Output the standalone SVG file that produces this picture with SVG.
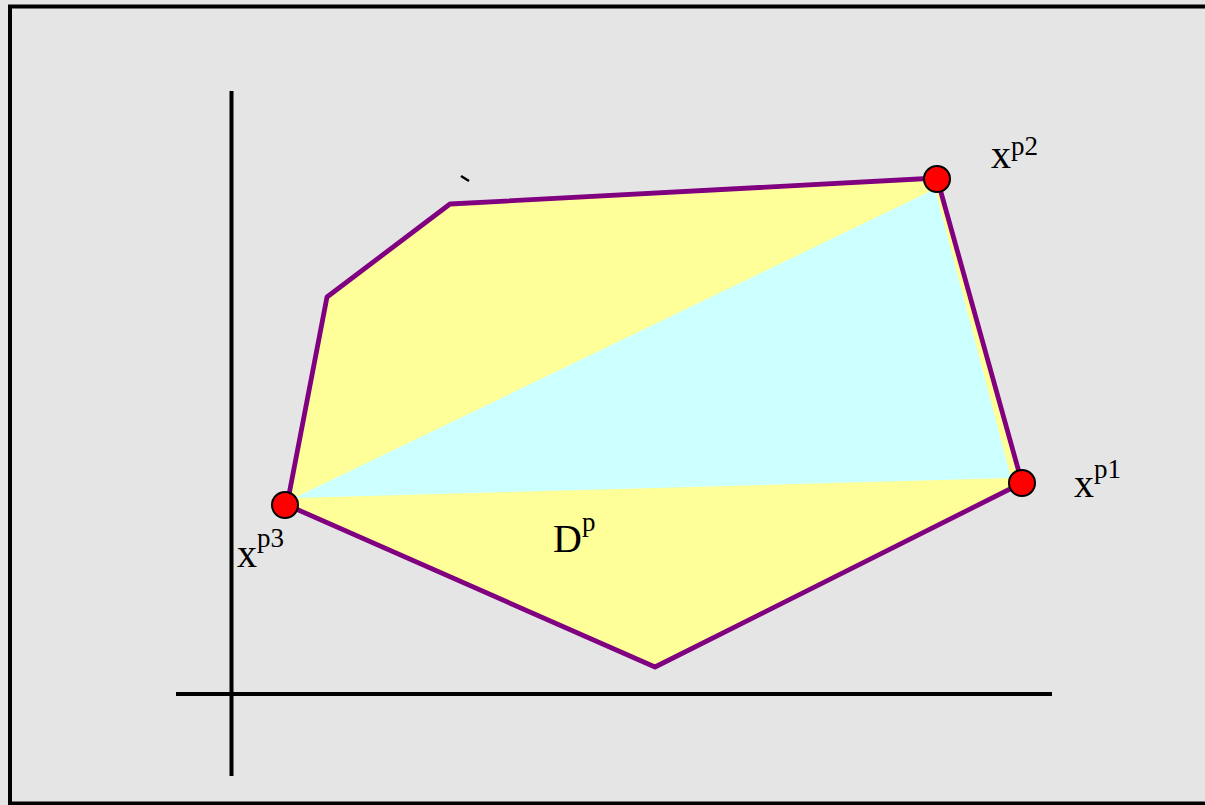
<svg xmlns="http://www.w3.org/2000/svg" width="1205" height="805" viewBox="0 0 1205 805">
<style>
.lbl{font-family:"Liberation Serif","Times New Roman",serif;font-size:40px;fill:#000}
.sup{font-size:27px}
.axis{stroke:#000;stroke-width:4;fill:none}
.pt{fill:#ff0000;stroke:#000;stroke-width:2}
</style>
<rect x="0" y="0" width="1205" height="805" fill="#e5e5e5"/>
<rect x="10" y="6.5" width="1200" height="797" fill="#e5e5e5" stroke="#000" stroke-width="4"/>
<g id="axes">
<line class="axis" x1="231.5" y1="91" x2="231.5" y2="776"/>
<line class="axis" x1="176" y1="694" x2="1052" y2="694"/>
</g>
<g id="region">
<polygon points="287,505 655,667 1022,483 937,178 450,204 327,297" fill="#ffff99" stroke="none"/>
<polygon points="294,498 935,189 1011,478" fill="#ccffff"/>
<polygon points="287,505 655,667 1022,483 937,178 450,204 327,297" fill="none" stroke="#800080" stroke-width="4.8" stroke-linejoin="round"/>
<line x1="461" y1="176" x2="469" y2="181" stroke="#000" stroke-width="2.5"/>
</g>
<g id="p1"><circle class="pt" cx="1022" cy="483" r="13"/></g>
<g id="p2"><circle class="pt" cx="937" cy="179" r="13"/></g>
<g id="p3"><circle class="pt" cx="285" cy="505" r="13"/></g>
<g id="labels">
<text class="lbl" x="991" y="168">x<tspan class="sup" dy="-13">p2</tspan></text>
<text class="lbl" x="1074" y="497">x<tspan class="sup" dy="-19">p1</tspan></text>
<text class="lbl" x="237" y="567">x<tspan class="sup" dy="-20">p3</tspan></text>
<text class="lbl" x="553" y="552">D<tspan class="sup" dy="-21">p</tspan></text>
</g>
</svg>
